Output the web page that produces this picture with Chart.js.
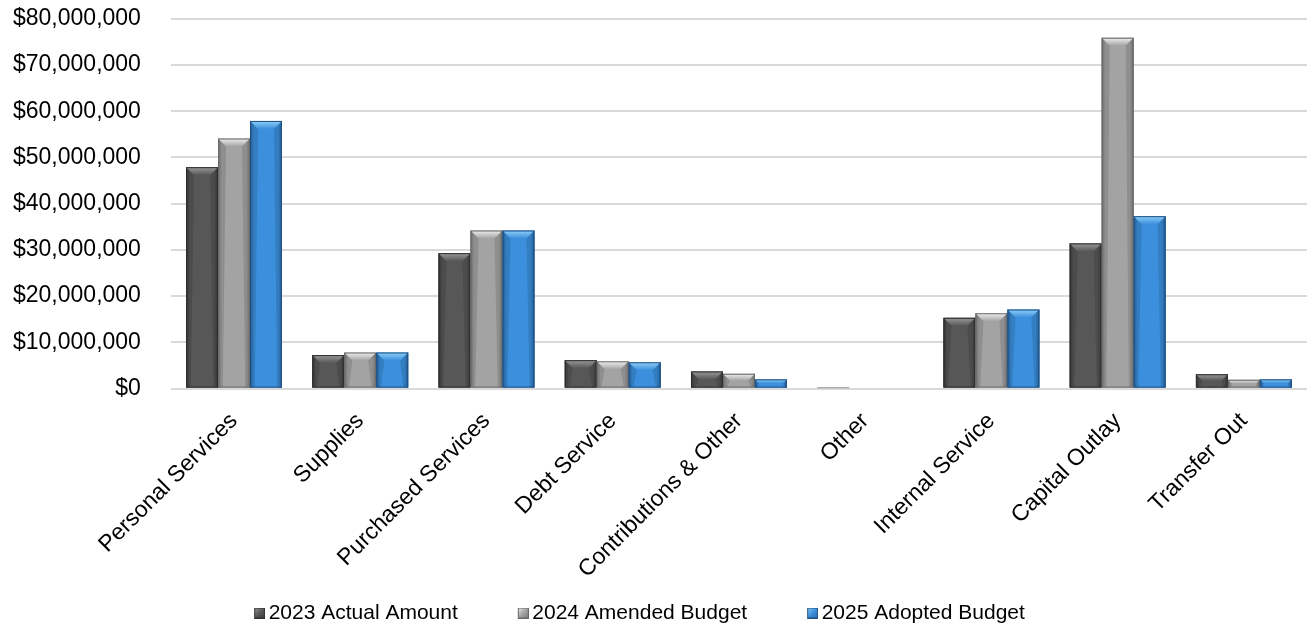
<!DOCTYPE html>
<html>
<head>
<meta charset="utf-8">
<script src="https://cdn.jsdelivr.net/npm/chart.js@4.4.1/dist/chart.umd.min.js"></script>
<style>
  html, body { margin: 0; padding: 0; background: #ffffff; overflow: hidden; }
  #wrap { width: 1309px; height: 635px; position: relative; }
</style>
</head>
<body>
<div id="wrap"><canvas id="c"></canvas></div>
<script>
const categories = ["Personal Services", "Supplies", "Purchased Services", "Debt Service", "Contributions & Other", "Other", "Internal Service", "Capital Outlay", "Transfer Out"];
const seriesNames = ["2023 Actual Amount", "2024 Amended Budget", "2025 Adopted Budget"];
const actual2023 = [47900000, 7250000, 29300000, 6150000, 3700000, 80000, 15300000, 31400000, 3100000];
const amended2024 = [54100000, 7800000, 34200000, 5900000, 3200000, 0, 16300000, 75900000, 1900000];
const adopted2025 = [57900000, 7800000, 34200000, 5700000, 2000000, 0, 17100000, 37300000, 2000000];
const yTicks = [0, 10000000, 20000000, 30000000, 40000000, 50000000, 60000000, 70000000, 80000000];

const FONT = "'Liberation Sans', Arial, sans-serif";
const palettes = [
  { body: "#575757", light: "#9a9a9a", dark: "#3a3a3a", edge: "#2e2e2e" },
  { body: "#a3a3a3", light: "#f0f0f0", dark: "#7d7d7d", edge: "#6a6a6a" },
  { body: "#3b8fdc", light: "#8fd0f8", dark: "#2768a8", edge: "#1f4f80" }
];

// legend marker: small bevelled square at the right end of a wider transparent image
const MARK_W = 64, SQ = 11, EXTRA = 7;
function makeMarker(p) {
  const c = document.createElement("canvas");
  c.width = MARK_W + 2 * EXTRA; c.height = SQ;
  const g = c.getContext("2d");
  const x0 = c.width - SQ;
  const lg = g.createLinearGradient(x0, 0, x0 + SQ, SQ);
  lg.addColorStop(0, p.light);
  lg.addColorStop(0.5, p.body);
  lg.addColorStop(1, p.dark);
  g.fillStyle = lg;
  g.fillRect(x0, 0, SQ, SQ);
  g.strokeStyle = p.edge; g.lineWidth = 1;
  g.strokeRect(x0 + 0.5, 0.5, SQ - 1, SQ - 1);
  return c;
}
const markers = palettes.map(makeMarker);

const bevelPlugin = {
  id: "bevel",
  afterLayout(chart) {
    const shift = 48;
    if (chart.legend) { chart.legend.left -= shift; chart.legend.right -= shift; }
  },
  afterDatasetsDraw(chart) {
    const ctx = chart.ctx;
    chart.data.datasets.forEach((ds, di) => {
      const meta = chart.getDatasetMeta(di);
      const p = palettes[di];
      meta.data.forEach((bar) => {
        const w = bar.width;
        const left = bar.x - w / 2, right = bar.x + w / 2;
        const top = Math.min(bar.y, bar.base), bottom = Math.max(bar.y, bar.base);
        const h = bottom - top;
        if (h < 1) return;
        const b = Math.min(8, h / 2);
        ctx.save();
        let g = ctx.createLinearGradient(left, 0, right, 0);
        g.addColorStop(0, p.dark);
        g.addColorStop(0.12, p.body);
        g.addColorStop(0.88, p.body);
        g.addColorStop(1, p.dark);
        ctx.fillStyle = g;
        ctx.fillRect(left, top, w, h);
        let tg = ctx.createLinearGradient(0, top, 0, top + b);
        tg.addColorStop(0, p.light);
        tg.addColorStop(1, p.body);
        ctx.fillStyle = tg;
        ctx.beginPath();
        ctx.moveTo(left, top);
        ctx.lineTo(right, top);
        ctx.lineTo(right - b, top + b);
        ctx.lineTo(left + b, top + b);
        ctx.closePath();
        ctx.fill();
        ctx.fillStyle = "rgba(0,0,0,0.12)";
        ctx.beginPath();
        ctx.moveTo(left, top); ctx.lineTo(left + b, top + b); ctx.lineTo(left + b * 0.6, bottom); ctx.lineTo(left, bottom); ctx.closePath();
        ctx.fill();
        ctx.beginPath();
        ctx.moveTo(right, top); ctx.lineTo(right - b, top + b); ctx.lineTo(right - b * 0.6, bottom); ctx.lineTo(right, bottom); ctx.closePath();
        ctx.fill();
        ctx.strokeStyle = p.edge;
        ctx.lineWidth = 1;
        ctx.strokeRect(left + 0.5, top + 0.5, w - 1, h - 1);
        ctx.restore();
      });
    });
  }
};

const chart = new Chart(document.getElementById("c"), {
  type: "bar",
  data: {
    labels: categories,
    datasets: [
      { label: seriesNames[0], data: actual2023, backgroundColor: palettes[0].body, borderWidth: 0 },
      { label: seriesNames[1], data: amended2024, backgroundColor: palettes[1].body, borderWidth: 0 },
      { label: seriesNames[2], data: adopted2025, backgroundColor: palettes[2].body, borderWidth: 0 }
    ]
  },
  options: {
    responsive: true,
    maintainAspectRatio: false,
    animation: false,
    layout: { padding: { left: 8, right: 2, top: 0, bottom: 1.5 } },
    datasets: { bar: { categoryPercentage: 0.76, barPercentage: 1.0 } },
    plugins: {
      tooltip: { enabled: false },
      legend: {
        position: "bottom",
        labels: {
          font: { family: FONT, size: 21 },
          color: "#000000",
          usePointStyle: true,
          pointStyleWidth: MARK_W,
          boxHeight: 11,
          padding: 0,
          generateLabels(chart) {
            return chart.data.datasets.map((ds, i) => ({
              text: ds.label,
              fillStyle: palettes[i].body,
              strokeStyle: palettes[i].edge,
              pointStyle: markers[i],
              lineWidth: 1,
              datasetIndex: i,
              hidden: false
            }));
          }
        }
      }
    },
    scales: {
      x: {
        grid: { display: false, drawTicks: false },
        border: { display: false },
        ticks: {
          font: { family: FONT, size: 23 },
          color: "#000000",
          minRotation: 45,
          maxRotation: 45,
          padding: 19,
          autoSkip: false
        }
      },
      y: {
        min: 0,
        max: 80000000,
        afterBuildTicks(axis) { axis.ticks = yTicks.map(v => ({ value: v })); },
        grid: { color: "#d9d9d9", lineWidth: 2, drawTicks: true, tickLength: 25, tickColor: "rgba(0,0,0,0)" },
        border: { display: false },
        ticks: {
          font: { family: FONT, size: 23 },
          color: "#000000",
          padding: 5,
          callback: (v) => "$" + Number(v).toLocaleString("en-US")
        }
      }
    }
  },
  plugins: [bevelPlugin]
});
</script>
</body>
</html>
